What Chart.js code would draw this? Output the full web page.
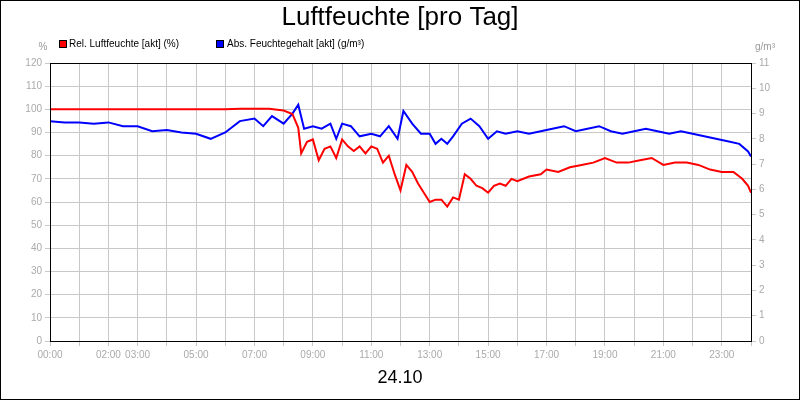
<!DOCTYPE html>
<html><head><meta charset="utf-8">
<script src="https://cdn.jsdelivr.net/npm/chart.js"></script>
<style>html,body{margin:0;padding:0;background:#fff}#w{width:798px;height:398px;border:1px solid #000;position:relative}</style>
</head><body><div id="w"><canvas id="c" width="798" height="398"></canvas></div>
<script>
const title = "Luftfeuchte [pro Tag]";
const dateLabel = "24.10";
const relName = "Rel. Luftfeuchte [akt] (%)";
const absName = "Abs. Feuchtegehalt [akt] (g/m³)";
const xLabels = {0:"00:00",2:"02:00",3:"03:00",5:"05:00",7:"07:00",9:"09:00",11:"11:00",13:"13:00",15:"15:00",17:"17:00",19:"19:00",21:"21:00",23:"23:00"};
const relHours = [0,1,2,3,4,5,6,6.5,7,7.5,8,8.3,8.5,8.6,8.8,9.0,9.2,9.4,9.6,9.8,10.0,10.2,10.4,10.6,10.8,11.0,11.2,11.4,11.6,11.8,12.0,12.2,12.4,12.6,12.8,13.0,13.2,13.4,13.6,13.8,14.0,14.2,14.4,14.6,14.8,15.0,15.2,15.4,15.6,15.8,16.0,16.4,16.8,17.0,17.4,17.8,18.2,18.6,19.0,19.4,19.8,20.2,20.6,21.0,21.4,21.8,22.2,22.6,23.0,23.4,23.7,23.9,24];
const relValues = [100,100,100,100,100,100,100,100.3,100.3,100.2,99.5,98,92,81,86,87,78,83,84,79,87,84,82,84,81,84,83,77,80,72,65,76,73,68,64,60,61,61,58,62,61,72,70,67,66,64,67,68,67,70,69,71,72,74,73,75,76,77,79,77,77,78,79,76,77,77,76,74,73,73,70,67,64];
const absHours = [0,0.5,1,1.5,2,2.5,3,3.5,4,4.5,5,5.5,6,6.5,7,7.3,7.6,8.0,8.3,8.5,8.7,9.0,9.3,9.6,9.8,10.0,10.3,10.6,11.0,11.3,11.6,11.9,12.1,12.4,12.7,13.0,13.2,13.4,13.6,13.8,14.1,14.4,14.7,15.0,15.3,15.6,16.0,16.4,16.8,17.2,17.6,18.0,18.4,18.8,19.2,19.6,20.0,20.4,20.8,21.2,21.6,22.0,22.4,22.8,23.2,23.6,23.9,24];
const absValues = [8.7,8.65,8.65,8.6,8.65,8.5,8.5,8.3,8.35,8.25,8.2,8.0,8.25,8.7,8.8,8.5,8.9,8.6,9.0,9.35,8.4,8.5,8.4,8.6,8.0,8.6,8.5,8.1,8.2,8.1,8.5,8.0,9.1,8.6,8.2,8.2,7.8,8.0,7.8,8.1,8.6,8.8,8.5,8.0,8.3,8.2,8.3,8.2,8.3,8.4,8.5,8.3,8.4,8.5,8.3,8.2,8.3,8.4,8.3,8.2,8.3,8.2,8.1,8.0,7.9,7.8,7.5,7.3];
const leftTicks = [0,10,20,30,40,50,60,70,80,90,100,110,120];
const rightTicks = [0,1,2,3,4,5,6,7,8,9,10,11];

const F = "'Liberation Sans', Arial, sans-serif";
const deco = {
  id:'deco',
  afterDraw(ch){
    const c = ch.ctx, a = ch.chartArea;
    c.save();
    c.fillStyle='#000'; c.textAlign='center'; c.textBaseline='middle';
    c.font = "26px "+F; c.fillText(title, 399, 17);
    c.font = "18px "+F; c.fillText(dateLabel, 399, 377);
    c.font = "10px "+F; c.textAlign='left';
    c.fillStyle='#ff0000'; c.fillRect(58,39,7,7); c.strokeStyle='#000'; c.lineWidth=1; c.strokeRect(58.5,39.5,7,7);
    c.fillStyle='#000'; c.fillText(relName, 68, 43);
    c.fillStyle='#0000ff'; c.fillRect(215,39,7,7); c.strokeRect(215.5,39.5,7,7);
    c.fillStyle='#000'; c.fillText(absName, 226, 43);
    c.fillStyle='#999'; c.textAlign='center';
    c.fillText('%', 42, 46); c.fillText('g/m³', 764, 46);
    c.strokeStyle='#000'; c.lineWidth=1;
    c.strokeRect(Math.round(a.left)+0.5, Math.round(a.top)+0.5, Math.round(a.right-a.left), Math.round(a.bottom-a.top));
    c.restore();
  }
};
new Chart(document.getElementById('c'), {
  type:'line',
  data:{datasets:[
    {label:relName, data:relHours.map((h,i)=>({x:h,y:relValues[i]})), borderColor:'#ff0000', borderWidth:2, pointRadius:0, tension:0, yAxisID:'y'},
    {label:absName, data:absHours.map((h,i)=>({x:h,y:absValues[i]})), borderColor:'#0000ff', borderWidth:2, pointRadius:0, tension:0, yAxisID:'y2'}
  ]},
  options:{
    responsive:false, animation:false, devicePixelRatio:1,
    layout:{padding:{top:62,left:0,right:0,bottom:0}},
    plugins:{legend:{display:false}, tooltip:{enabled:false}},
    scales:{
      x:{type:'linear', min:0, max:24, afterBuildTicks:s=>{s.ticks=[];for(let i=0;i<=24;i++)s.ticks.push({value:i});},
         ticks:{autoSkip:false, maxRotation:0, color:'#aaa', font:{family:F,size:10}, callback:v=>xLabels[v]||''},
         grid:{color:'#c8c8c8', tickColor:'#c8c8c8', tickLength:5}, border:{color:'#000'}, afterFit:s=>{s.height=58;}},
      y:{position:'left', min:0, max:120, afterBuildTicks:s=>{s.ticks=leftTicks.map(v=>({value:v}));},
         ticks:{color:'#aaa', font:{family:F,size:10}}, grid:{color:'#c8c8c8', tickColor:'#c8c8c8', tickLength:5}, afterFit:s=>{s.width=49;}},
      y2:{position:'right', min:0, max:11, afterBuildTicks:s=>{s.ticks=rightTicks.map(v=>({value:v}));},
         ticks:{color:'#aaa', font:{family:F,size:10}}, grid:{drawOnChartArea:false, color:'#c8c8c8', tickLength:5}, afterFit:s=>{s.width=48;}}
    }
  },
  plugins:[deco]
});
</script>
</body></html>
